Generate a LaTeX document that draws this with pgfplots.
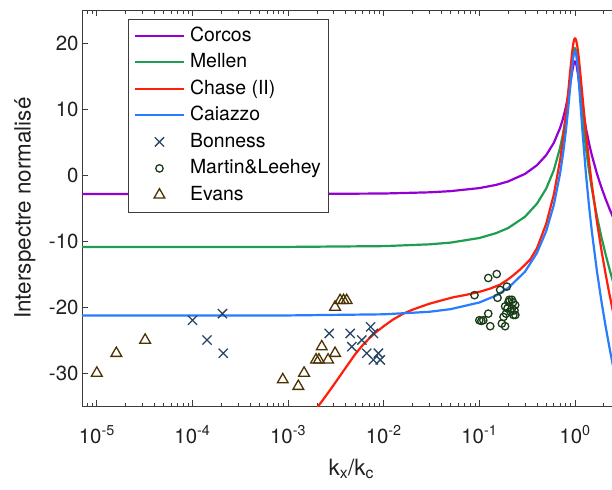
\documentclass[border=0pt]{standalone}
\usepackage{fontspec}
\setmainfont{TeX Gyre Heros}
\usepackage{pgfplots}
\pgfplotsset{compat=1.18}
\definecolor{ccorcos}{RGB}{148,0,211}
\definecolor{cmellen}{RGB}{30,158,80}
\definecolor{cchase}{RGB}{255,30,10}
\definecolor{ccaiazzo}{RGB}{40,125,255}
\definecolor{cbon}{RGB}{40,70,100}
\definecolor{cmar}{RGB}{25,60,25}
\definecolor{ceva}{RGB}{75,50,0}
\definecolor{caxis}{RGB}{60,60,60}
\pgfplotsset{
  lineleg/.style={legend image code/.code={\draw[##1] (0bp,0bp) -- (49bp,0bp);}},
  markleg/.style={legend image code/.code={\draw[##1] plot coordinates {(24.5bp,0bp)};}},
}
\begin{document}
\begin{tikzpicture}
\begin{axis}[
  at={(0,0)}, anchor=south west,
  scale only axis, width=538.5bp, height=396bp,
  xmode=log, xmin=7e-6, xmax=3, ymin=-35, ymax=25,
  xtick={1e-5,1e-4,1e-3,1e-2,1e-1,1},
  xticklabels={10\textsuperscript{-5},10\textsuperscript{-4},10\textsuperscript{-3},10\textsuperscript{-2},10\textsuperscript{-1},10\textsuperscript{0}},
  minor xtick={7e-6,8e-6,9e-6,2e-5,3e-5,4e-5,5e-5,6e-5,7e-5,8e-5,9e-5,2e-4,3e-4,4e-4,5e-4,6e-4,7e-4,8e-4,9e-4,2e-3,3e-3,4e-3,5e-3,6e-3,7e-3,8e-3,9e-3,2e-2,3e-2,4e-2,5e-2,6e-2,7e-2,8e-2,9e-2,0.2,0.3,0.4,0.5,0.6,0.7,0.8,0.9,2,3},
  ytick={-30,-20,-10,0,10,20},
  yticklabels={-30,-20,-10,0,10,20},
  tick align=inside, major tick length=6bp, minor tick length=3.5bp,
  axis line style={caxis, line width=0.9bp},
  every tick/.style={caxis, line width=0.7bp},
  tick label style={font=\fontsize{20.5}{24}\selectfont, text=black!88},
  xticklabel style={anchor=base, yshift=-37bp},
  label style={font=\fontsize{22.5}{27}\selectfont, text=black!88},
  xlabel={k\textsubscript{x}/k\textsubscript{c}},
  xlabel style={at={(axis description cs:0.5,-0.1742)}, anchor=base},
  ylabel={Interspectre normalisé},
  ylabel style={at={(axis description cs:-0.0956,0.5)}, anchor=base},
  legend cell align=left,
  legend style={at={(0.0854,0.9785)}, anchor=north west, draw=caxis, line width=0.7bp,
    font=\fontsize{19.5}{23}\selectfont, inner xsep=5.5bp, inner ysep=5.5bp,
    row sep=3.5bp, column sep=3bp,
    nodes={inner sep=2bp, text height=15bp, text depth=4bp}},
]
\addplot[ccorcos, line width=2.2bp, lineleg] coordinates {
(5e-6,-2.88) (1e-3,-2.88) (0.01,-2.80) (0.03,-2.62) (0.05,-2.44) (0.1,-1.98) (0.15,-1.49) (0.2,-0.97) (0.3,0.17) (0.4,1.48) (0.5,3.01) (0.6,4.86) (0.7,7.16) (0.75,8.56) (0.8,10.18) (0.85,12.05) (0.9,14.17) (0.93,15.46) (0.95,16.22) (0.96,16.55) (0.97,16.82) (0.98,17.03) (0.99,17.16) (1.0,17.20)
(1.01,17.16) (1.02,17.03) (1.03,16.82) (1.04,16.55) (1.05,16.22) (1.07,15.46) (1.1,14.17) (1.15,12.05) (1.2,10.18) (1.3,7.16) (1.4,4.86) (1.5,3.01) (1.7,0.17) (1.9,-1.98) (2.1,-3.70) (2.3,-5.14) (2.5,-6.38) (2.7,-7.46) (3.2,-9.70)};
\addlegendentry{Corcos}
\addplot[cmellen, line width=2.2bp, lineleg] coordinates {
(5e-6,-10.90) (1e-3,-10.89) (0.01,-10.77) (0.03,-10.50) (0.05,-10.24) (0.1,-9.54) (0.15,-8.80) (0.2,-8.03) (0.3,-6.32) (0.4,-4.35) (0.5,-2.06) (0.6,0.71) (0.7,4.17) (0.75,6.27) (0.8,8.69) (0.85,11.50) (0.9,14.67) (0.93,16.59) (0.95,17.74) (0.96,18.23) (0.97,18.64) (0.98,18.94) (0.99,19.13) (1.0,19.2)
(1.01,19.13) (1.02,18.94) (1.03,18.64) (1.04,18.23) (1.05,17.74) (1.07,16.59) (1.1,14.67) (1.15,11.50) (1.2,8.69) (1.3,4.17) (1.4,0.71) (1.5,-2.06) (1.7,-6.32) (1.9,-9.54) (2.1,-12.13) (2.3,-14.29) (2.5,-16.14) (2.7,-17.77) (3.2,-21.12)};
\addlegendentry{Mellen}
\addplot[cchase, line width=2.2bp, lineleg] coordinates {
(0.0015,-37.8) (0.002,-35.3) (0.0025,-33.4) (0.003,-31.8) (0.0035,-30.4) (0.004,-29.2) (0.005,-27.2) (0.006,-25.8) (0.007,-24.8) (0.008,-24.0) (0.01,-22.9) (0.0125,-21.9) (0.016,-21.0) (0.02,-20.4) (0.025,-19.9) (0.03,-19.5) (0.04,-19.0) (0.054,-18.5) (0.07,-18.2) (0.087,-17.9) (0.1,-17.7) (0.13,-17.2) (0.165,-16.6) (0.2,-15.8) (0.235,-15.0) (0.267,-14.3) (0.3,-13.6) (0.34,-12.8) (0.4,-11.1) (0.5,-7.4) (0.6,-3.0) (0.7,2.3) (0.75,5.4) (0.8,8.9) (0.85,12.6) (0.9,16.35) (0.93,18.35) (0.95,19.44) (0.96,19.88) (0.97,20.23) (0.98,20.49) (0.99,20.65) (1.0,20.7)
(1.01,20.66) (1.02,20.55) (1.03,20.37) (1.05,19.81) (1.07,19.02) (1.1,17.55) (1.15,14.7) (1.2,11.8) (1.3,6.56) (1.4,2.2) (1.5,-1.4) (1.7,-7.16) (1.9,-11.57) (2.1,-15.14) (2.3,-18.14) (2.5,-20.71) (3.2,-27.65)};
\addlegendentry{Chase (II)}
\addplot[ccaiazzo, line width=2.2bp, lineleg] coordinates {
(5e-6,-21.29) (1e-3,-21.27) (0.01,-21.10) (0.03,-20.72) (0.05,-20.32) (0.1,-19.31) (0.15,-18.25) (0.2,-17.12) (0.3,-14.65) (0.4,-11.81) (0.5,-8.51) (0.6,-4.57) (0.7,0.29) (0.75,3.18) (0.8,6.44) (0.85,10.09) (0.9,13.94) (0.93,16.11) (0.95,17.33) (0.96,17.84) (0.97,18.25) (0.98,18.55) (0.99,18.74) (1.0,18.8)
(1.01,18.74) (1.02,18.55) (1.03,18.25) (1.04,17.84) (1.05,17.33) (1.07,16.11) (1.1,13.94) (1.15,10.09) (1.2,6.44) (1.3,0.29) (1.4,-4.57) (1.5,-8.51) (1.7,-14.65) (1.9,-19.31) (2.1,-23.07) (2.3,-26.22) (2.5,-28.92) (2.7,-31.29) (3.2,-36.2)};
\addlegendentry{Caiazzo}
\addplot[only marks, mark=x, mark size=6.5bp, cbon, line width=1.3bp, markleg] coordinates {
(1e-4,-22) (1.42e-4,-25) (2.06e-4,-21) (2.1e-4,-27) (2.69e-3,-24) (4.46e-3,-24) (4.64e-3,-26) (5.9e-3,-25) (6.65e-3,-27) (7.3e-3,-23) (7.8e-3,-24) (7.8e-3,-28) (8.8e-3,-27) (9.2e-3,-28)};
\addlegendentry{Bonness}
\addplot[only marks, mark=o, mark size=3.7bp, cmar, line width=1.3bp, markleg] coordinates {
(0.089,-18.2) (0.124,-15.6) (0.152,-15.0) (0.165,-17.4) (0.194,-16.9) (0.155,-18.6) (0.202,-19.2) (0.219,-18.9) (0.237,-19.7) (0.219,-20.2) (0.186,-19.9) (0.227,-21.2) (0.179,-21.5) (0.124,-21.0) (0.110,-22.0) (0.100,-22.0) (0.130,-22.9) (0.172,-22.5) (0.186,-22.9) (0.206,-18.9) (0.233,-20.5) (0.238,-21.2) (0.197,-20.2) (0.212,-20.7) (0.105,-22.1) (0.190,-21.0) (0.225,-19.3)};
\addlegendentry{Martin\&Leehey}
\addplot[only marks, mark=triangle, mark size=6.2bp, ceva, line width=1.3bp, markleg] coordinates {
(1e-5,-30) (1.6e-5,-27) (3.2e-5,-25) (8.8e-4,-31) (1.28e-3,-32) (1.47e-3,-30) (1.96e-3,-28) (2.1e-3,-28) (2.25e-3,-26) (2.62e-3,-28) (3.1e-3,-27) (3.1e-3,-20) (3.5e-3,-19) (3.8e-3,-19) (4.1e-3,-19)};
\addlegendentry{Evans}
\end{axis}
\pgfresetboundingbox
\path[use as bounding box] (-82bp,-83bp) rectangle (529.9bp,406bp);
\end{tikzpicture}
\end{document}
